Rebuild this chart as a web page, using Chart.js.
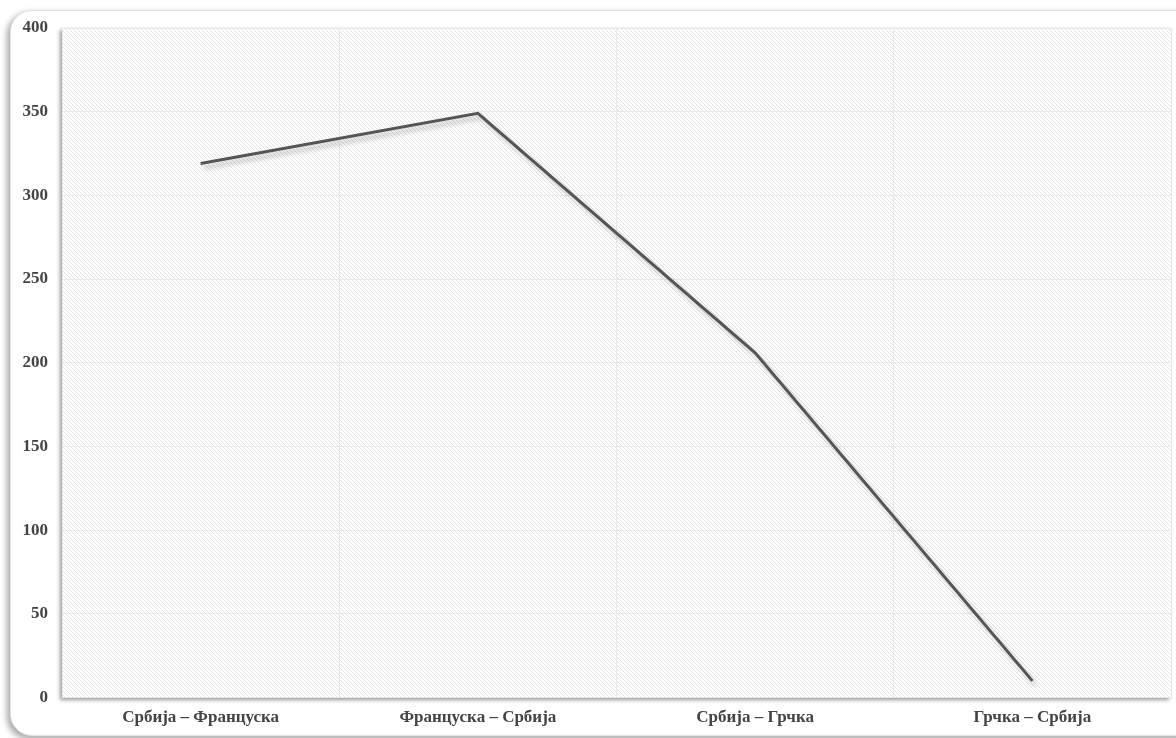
<!DOCTYPE html>
<html>
<head>
<meta charset="utf-8">
<script src="https://cdn.jsdelivr.net/npm/chart.js@4"></script>
<style>
  html, body { margin: 0; padding: 0; background: #fff; overflow: hidden; }
  .card {
    position: absolute; left: 10px; top: 10px; width: 1200px; height: 724px;
    border: 1px solid #e2e2e2; border-radius: 22px;
    box-shadow: -3px 3px 6px rgba(0,0,0,0.35);
    background: #fff;
  }
  .wrap { position: absolute; left: 0; top: 0; width: 1176px; height: 738px; }
</style>
</head>
<body>
<div class="card"></div>
<div class="wrap"><canvas id="chartRelacije"></canvas></div>
<script>
const relacije = ['Србија – Француска', 'Француска – Србија', 'Србија – Грчка', 'Грчка – Србија'];
const vrednosti = [319, 349, 206, 10];
const y_min = 0, y_max = 400, y_korak = 50;

// sitan kosi uzorak za pozadinu
function napraviUzorak(ctx) {
    const c = document.createElement('canvas');
    c.width = 4; c.height = 4;
    const p = c.getContext('2d');
    p.fillStyle = '#ffffff';
    p.fillRect(0, 0, 4, 4);
    p.strokeStyle = '#e2e2e2';
    p.lineWidth = 1;
    p.beginPath();
    p.moveTo(-1, -1); p.lineTo(5, 5);
    p.moveTo(-1, 3); p.lineTo(1, 5);
    p.moveTo(3, -1); p.lineTo(5, 1);
    p.stroke();
    return ctx.createPattern(c, 'repeat');
}

const pozadina = {
    id: 'pozadina',
    beforeDraw(chart) {
        const { ctx, chartArea: a } = chart;
        ctx.save();
        ctx.shadowColor = 'rgba(0,0,0,0.4)';
        ctx.shadowOffsetX = -2;
        ctx.shadowOffsetY = 2;
        ctx.shadowBlur = 4;
        ctx.fillStyle = '#fff';
        ctx.fillRect(a.left, a.top, a.right - a.left, a.bottom - a.top);
        ctx.restore();
        ctx.save();
        ctx.fillStyle = napraviUzorak(ctx);
        ctx.fillRect(a.left, a.top, a.right - a.left, a.bottom - a.top);
        ctx.restore();
    }
};

const senka = {
    id: 'senka',
    beforeDatasetsDraw(chart) {
        const ctx = chart.ctx;
        ctx.save();
        ctx.shadowColor = 'rgba(0,0,0,0.25)';
        ctx.shadowOffsetX = 3;
        ctx.shadowOffsetY = 4;
        ctx.shadowBlur = 5;
    },
    afterDatasetsDraw(chart) {
        chart.ctx.restore();
    }
};

const font = { family: '"Liberation Serif", "Times New Roman", serif', size: 17, weight: 'bold' };

new Chart(document.getElementById('chartRelacije'), {
    type: 'line',
    data: {
        labels: relacije,
        datasets: [{
            data: vrednosti,
            borderColor: '#555555',
            borderWidth: 3,
            pointRadius: 0,
            tension: 0,
            fill: false
        }]
    },
    options: {
        responsive: true,
        maintainAspectRatio: false,
        animation: false,
        layout: { padding: { top: 28, right: 5, bottom: 0, left: 0 } },
        plugins: { legend: { display: false }, tooltip: { enabled: false } },
        scales: {
            x: {
                offset: true,
                grid: { offset: true, color: '#e8e8e8', drawTicks: false },
                border: { display: false },
                ticks: { color: '#444', font: font, padding: 10 }
            },
            y: {
                min: y_min, max: y_max,
                ticks: { stepSize: y_korak, color: '#444', font: font, padding: 14 },
                grid: { color: '#e8e8e8', drawTicks: false },
                border: { display: false },
                afterFit(scale) { scale.width = 62; }
            }
        }
    },
    plugins: [pozadina, senka]
});
</script>
</body>
</html>
